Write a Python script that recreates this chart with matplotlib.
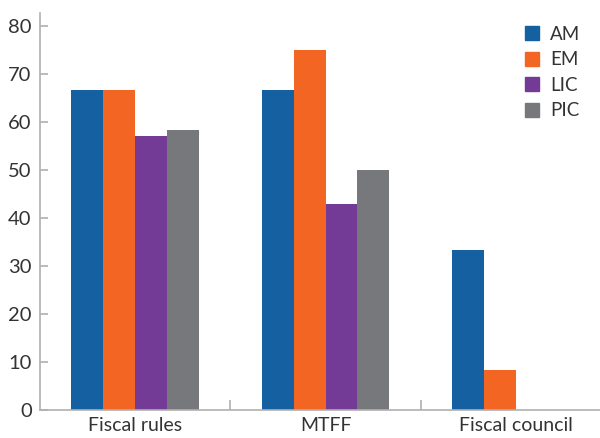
import numpy as np
import matplotlib
matplotlib.use('Agg')
import matplotlib.pyplot as plt
from matplotlib.patches import Patch

categories = ['Fiscal rules', 'MTFF', 'Fiscal council']
series_names = ['AM', 'EM', 'LIC', 'PIC']
am_values = [66.7, 66.7, 33.3]
em_values = [66.7, 75.0, 8.3]
lic_values = [57.1, 42.9, 0.0]
pic_values = [58.3, 50.0, 0.0]
colors = ['#1560a0', '#f26522', '#733a96', '#77787b']

plt.rcParams['font.family'] = ['Lato', 'DejaVu Sans']

fig = plt.figure(figsize=(6, 4.38), dpi=100)
ax = fig.add_axes([40 / 600, 1 - 410 / 438, 1 - 40 / 600, (410 - 13) / 438])

x = np.arange(len(categories))
width = 0.168
all_values = [am_values, em_values, lic_values, pic_values]
for i, (name, vals) in enumerate(zip(series_names, all_values)):
    offset = (i - 1.5) * width
    ax.bar(x + offset, vals, width, color=colors[i], label=name, linewidth=0)

ax.set_xlim(-0.5, 2.442)
ax.set_ylim(0, 82.7)
ax.set_yticks(range(0, 81, 10))
ax.set_xticks(x)
ax.set_xticklabels(categories)
ax.set_xticks([0.5, 1.5], minor=True)

for side in ['top', 'right']:
    ax.spines[side].set_visible(False)
for side in ['left', 'bottom']:
    ax.spines[side].set_color('#b0b0b0')
    ax.spines[side].set_linewidth(1.2)

ax.tick_params(axis='x', which='major', length=0, labelsize=14, labelcolor='#333333', pad=5)
ax.tick_params(axis='x', which='minor', direction='in', length=7, color='#b0b0b0', width=1.2)
ax.tick_params(axis='y', direction='in', length=6, color='#b0b0b0', width=1.2,
               labelsize=14.5, labelcolor='#333333', pad=6)

handles = [Patch(color=c, label=n) for c, n in zip(colors, series_names)]
ax.legend(handles=handles, loc='upper right', bbox_to_anchor=(0.995, 1.01), frameon=False,
          fontsize=13.5, handlelength=0.75, handleheight=0.75, handletextpad=0.6,
          labelspacing=0.45, labelcolor='#333333')

fig.savefig('out.png', dpi=100)
